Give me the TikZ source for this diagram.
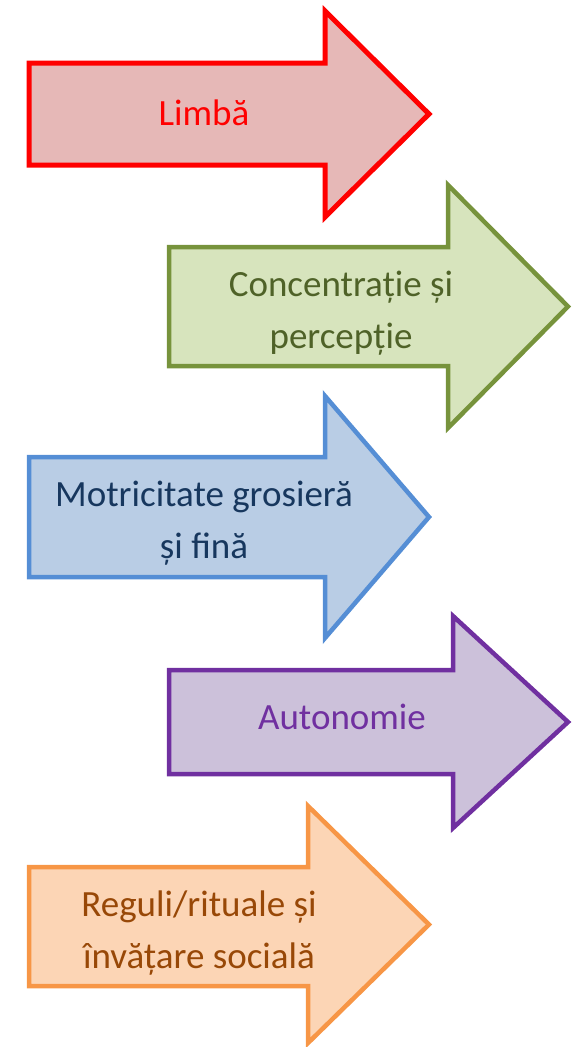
\documentclass[tikz,border=0pt]{standalone}
\usepackage{fontspec}
\setmainfont{Carlito}
\usepackage{tikz}
\definecolor{limbaLine}{HTML}{FF0000}
\definecolor{limbaFill}{HTML}{E6B8B7}
\definecolor{limbaText}{HTML}{FF0000}
\definecolor{concLine}{HTML}{77933C}
\definecolor{concFill}{HTML}{D7E4BD}
\definecolor{concText}{HTML}{4F6228}
\definecolor{motrLine}{HTML}{558ED5}
\definecolor{motrFill}{HTML}{B9CDE5}
\definecolor{motrText}{HTML}{17375E}
\definecolor{autoLine}{HTML}{7030A0}
\definecolor{autoFill}{HTML}{CCC1DA}
\definecolor{autoText}{HTML}{7030A0}
\definecolor{reguLine}{HTML}{F79646}
\definecolor{reguFill}{HTML}{FCD5B5}
\definecolor{reguText}{HTML}{984807}
% left, neck, tip (x) ; body top, body bottom, head top, head bottom (y)
\def\bigarrow[#1](#2:#3:#4)(#5:#6:#7:#8){\draw[#1] (#2,#5) -- (#3,#5) -- (#3,#7) -- (#4,{(#7+#8)/2}) -- (#3,#8) -- (#3,#6) -- (#2,#6) -- cycle;}

\begin{document}
\begin{tikzpicture}[x=1pt, y=-1pt,
		arrowtext/.style={align=center, font=\fontsize{37}{52}\selectfont}]
		%%%%% START %%%%%
		
		\useasboundingbox (0, 0) rectangle (578, 1047);
		
		\bigarrow[line width=5pt, draw=limbaLine, fill=limbaFill](29:325:429)(63:165:11:217);
		\node[arrowtext, text=limbaText] (limba) at (204, 113) {Limbă};
		
		\bigarrow[line width=4.5pt, draw=concLine, fill=concFill](169:448:568)(247:366:185:428);
		\node[arrowtext, text=concText] (concentratie) at (341, 313) {Concentrație și\\percepție};
		
		\bigarrow[line width=4.5pt, draw=motrLine, fill=motrFill](29:325:429)(457:577:396:638);
		\node[arrowtext, text=motrText] (motricitate) at (204, 523) {Motricitate grosieră\\și fină};
		
		\bigarrow[line width=4.5pt, draw=autoLine, fill=autoFill](169:453:568)(670:774:616:828);
		\node[arrowtext, text=autoText] (autonomie) at (342, 717) {Autonomie};
		
		\bigarrow[line width=4.5pt, draw=reguLine, fill=reguFill](29:308:429)(867:986:806:1043);
		\node[arrowtext, text=reguText] (reguli) at (199, 933) {Reguli/rituale și\\învățare socială};
		
		%%%%% END %%%%%
	\end{tikzpicture}
\end{document}
